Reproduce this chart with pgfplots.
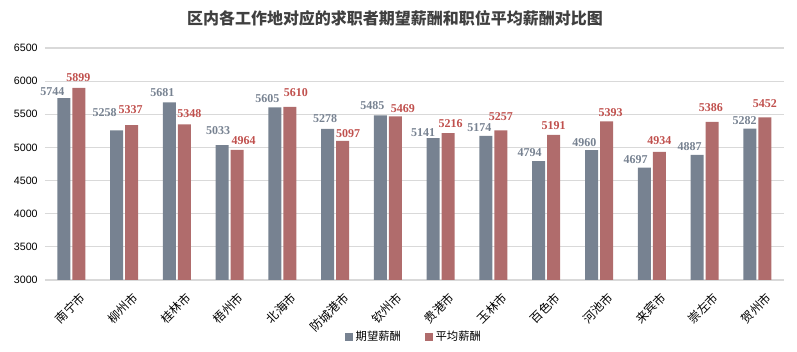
\documentclass[border=0pt]{standalone}
\usepackage{pgfplots}
\usepackage{pgfplotstable}
\pgfplotsset{compat=1.18}
\usepackage{fontspec}
\setmainfont{Liberation Sans}
\newfontfamily\cjk{Noto Sans CJK SC}
\newfontfamily\numfont{Liberation Serif}
\definecolor{sgray}{HTML}{778291}
\definecolor{sred}{HTML}{B06C6C}
\definecolor{lgray}{HTML}{778291}
\definecolor{lred}{HTML}{C0504D}
\definecolor{gridc}{HTML}{D9D9D9}
\definecolor{titlec}{HTML}{404040}
\pgfplotstableread{
x y dx dy
0 5744 -8.6 1.5
1 5258 -9.0 9.8
2 5681 -5.3 4.3
3 5033 -3.0 7.5
4 5605 -5.6 3.0
5 5278 -1.9 4.5
6 5485 -6.0 3.8
7 5141 -7.5 0.8
8 5174 -4.9 3.0
9 4794 -6.8 3.0
10 4960 -5.3 2.5
11 4697 -6.4 3.0
12 4887 -5.6 3.3
13 5282 -3.8 2.6
}\expected
\pgfplotstableread{
x y dx dy
0 5899 -0.4 4.2
1 5337 -0.8 8.3
2 5348 3.8 5.0
3 4964 4.9 3.8
4 5610 4.5 7.3
5 5097 4.1 2.3
6 5469 5.6 2.5
7 5216 1.9 3.8
8 5257 0.0 7.5
9 5191 0.0 3.8
10 5393 3.0 3.0
11 4934 0.0 5.0
12 5386 -0.8 7.5
13 5452 0.0 7.5
}\average
\begin{document}
\begin{tikzpicture}
\useasboundingbox (-33.75pt,-54pt) rectangle (564pt,210pt);
\begin{axis}[
  at={(0,0)}, anchor=south west,
  scale only axis, width=554pt, height=174pt,
  ybar=1.5pt, bar width=9.75pt,
  xmin=-0.5, xmax=13.5, ymin=3000, ymax=6500,
  ytick={3000,3500,4000,4500,5000,5500,6000,6500},
  xtick={0,...,13},
  xticklabels={南宁市,柳州市,桂林市,梧州市,北海市,防城港市,钦州市,贵港市,玉林市,百色市,河池市,来宾市,崇左市,贺州市},
  x tick label style={font=\cjk\fontsize{9}{10}\selectfont, rotate=45, anchor=north east, inner sep=0pt, yshift=-7pt, xshift=1pt},
  y tick label style={font=\fontsize{8}{9}\selectfont},
  /pgf/number format/assume math mode=true,
  /pgf/number format/1000 sep={},
  ymajorgrids, grid style={gridc, line width=0.8pt},
  axis x line*=bottom, axis y line*=left,
  y axis line style={draw=none},
  x axis line style={draw=gridc, line width=1pt},
  major tick style={draw=none},
  yticklabel style={xshift=-2pt},
  visualization depends on={\thisrow{dx} \as \dx},
  visualization depends on={\thisrow{dy} \as \dy},
  nodes near coords,
  nodes near coords style={font=\numfont\bfseries\fontsize{9}{10}\selectfont, anchor=south, inner sep=0pt, xshift=\dx pt, yshift=\dy pt},
  legend style={at={(0.5,-0.245)}, anchor=center, draw=none, legend columns=2, font=\cjk\fontsize{8.5}{9}\selectfont, /tikz/every even column/.append style={column sep=16pt}},
  legend image code/.code={\fill[#1] (0pt,-3pt) rectangle (6pt,3pt);},
]
\addplot[fill=sgray, draw=none, nodes near coords style={text=lgray}] table[x=x, y=y] {\expected};
\addplot[fill=sred, draw=none, nodes near coords style={text=lred}] table[x=x, y=y] {\average};
\legend{期望薪酬,平均薪酬}
\end{axis}
\node[font=\cjk\bfseries\fontsize{12}{14}\selectfont, text=titlec] at (262.5pt,196.5pt) {区内各工作地对应的求职者期望薪酬和职位平均薪酬对比图};
\end{tikzpicture}
\end{document}
